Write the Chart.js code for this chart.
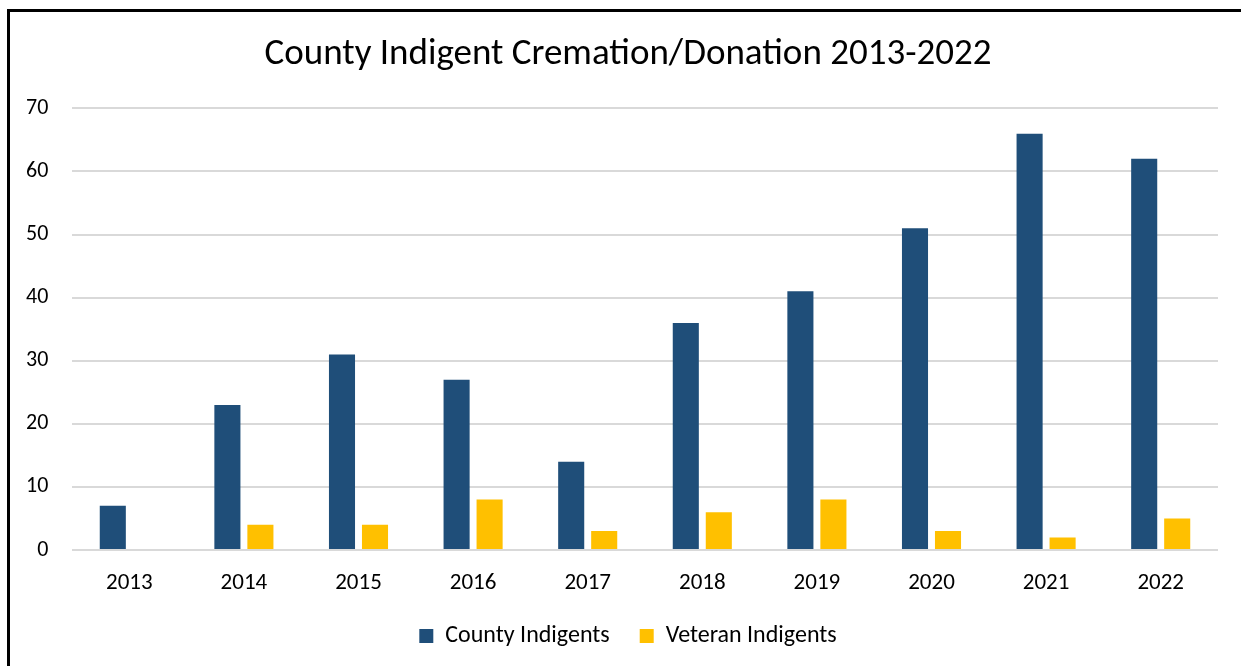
<!DOCTYPE html>
<html>
<head>
<meta charset="utf-8">
<script src="https://cdn.jsdelivr.net/npm/chart.js@4"></script>
<style>
    html, body { margin: 0; padding: 0; background: #fff; overflow: hidden; }
    #wrap { position: relative; width: 1241px; height: 666px; }
    #frame { position: absolute; left: 7px; top: 9px; width: 1300px; height: 700px; border: 3px solid #000; box-sizing: border-box; }
    canvas { position: absolute; left: 0; top: 0; }
</style>
</head>
<body>
<div id="wrap">
    <div id="frame"></div>
    <canvas id="chart" width="1241" height="666"></canvas>
</div>
<script>
const years = ['2013', '2014', '2015', '2016', '2017', '2018', '2019', '2020', '2021', '2022'];
const countyIndigents = [7, 23, 31, 27, 14, 36, 41, 51, 66, 62];
const veteranIndigents = [0, 4, 4, 8, 3, 6, 8, 3, 2, 5];

const countyColor = '#1F4E79';
const veteranColor = '#FFC000';
const gridColor = '#D9D9D9';
const fontFamily = 'Carlito, Calibri, "Open Sans", sans-serif';

const canvas = document.getElementById('chart');
new Chart(canvas, {
    type: 'bar',
    data: {
        labels: years,
        datasets: [
            {
                label: 'County Indigents',
                data: countyIndigents,
                backgroundColor: countyColor,
                categoryPercentage: 0.576,
                barPercentage: 0.79
            },
            {
                label: 'Veteran Indigents',
                data: veteranIndigents,
                backgroundColor: veteranColor,
                categoryPercentage: 0.576,
                barPercentage: 0.79
            }
        ]
    },
    options: {
        responsive: false,
        animation: false,
        layout: { padding: { left: 38, right: 23, top: 33, bottom: 8 } },
        plugins: {
            title: {
                display: true,
                text: 'County Indigent Cremation/Donation 2013-2022',
                color: '#000',
                font: { family: fontFamily, size: 37, weight: 'normal' },
                padding: { top: 0, bottom: 31 }
            },
            legend: {
                position: 'bottom',
                labels: {
                    color: '#000',
                    font: { family: fontFamily, size: 24 },
                    boxWidth: 14,
                    boxHeight: 14,
                    padding: 30
                }
            },
            tooltip: { enabled: false }
        },
        scales: {
            x: {
                grid: { display: false },
                border: { display: false },
                ticks: { color: '#000', font: { family: fontFamily, size: 23 }, padding: 11 },
                afterFit: (scale) => { scale.height = 44; }
            },
            y: {
                min: 0,
                max: 70,
                ticks: {
                    stepSize: 10,
                    color: '#000',
                    font: { family: fontFamily, size: 22 },
                    mirror: true,
                    crossAlign: 'far',
                    padding: -46
                },
                grid: { color: gridColor, lineWidth: 2, drawTicks: false },
                border: { display: false },
                afterFit: (scale) => { scale.width = 34; }
            }
        }
    }
});
</script>
</body>
</html>
